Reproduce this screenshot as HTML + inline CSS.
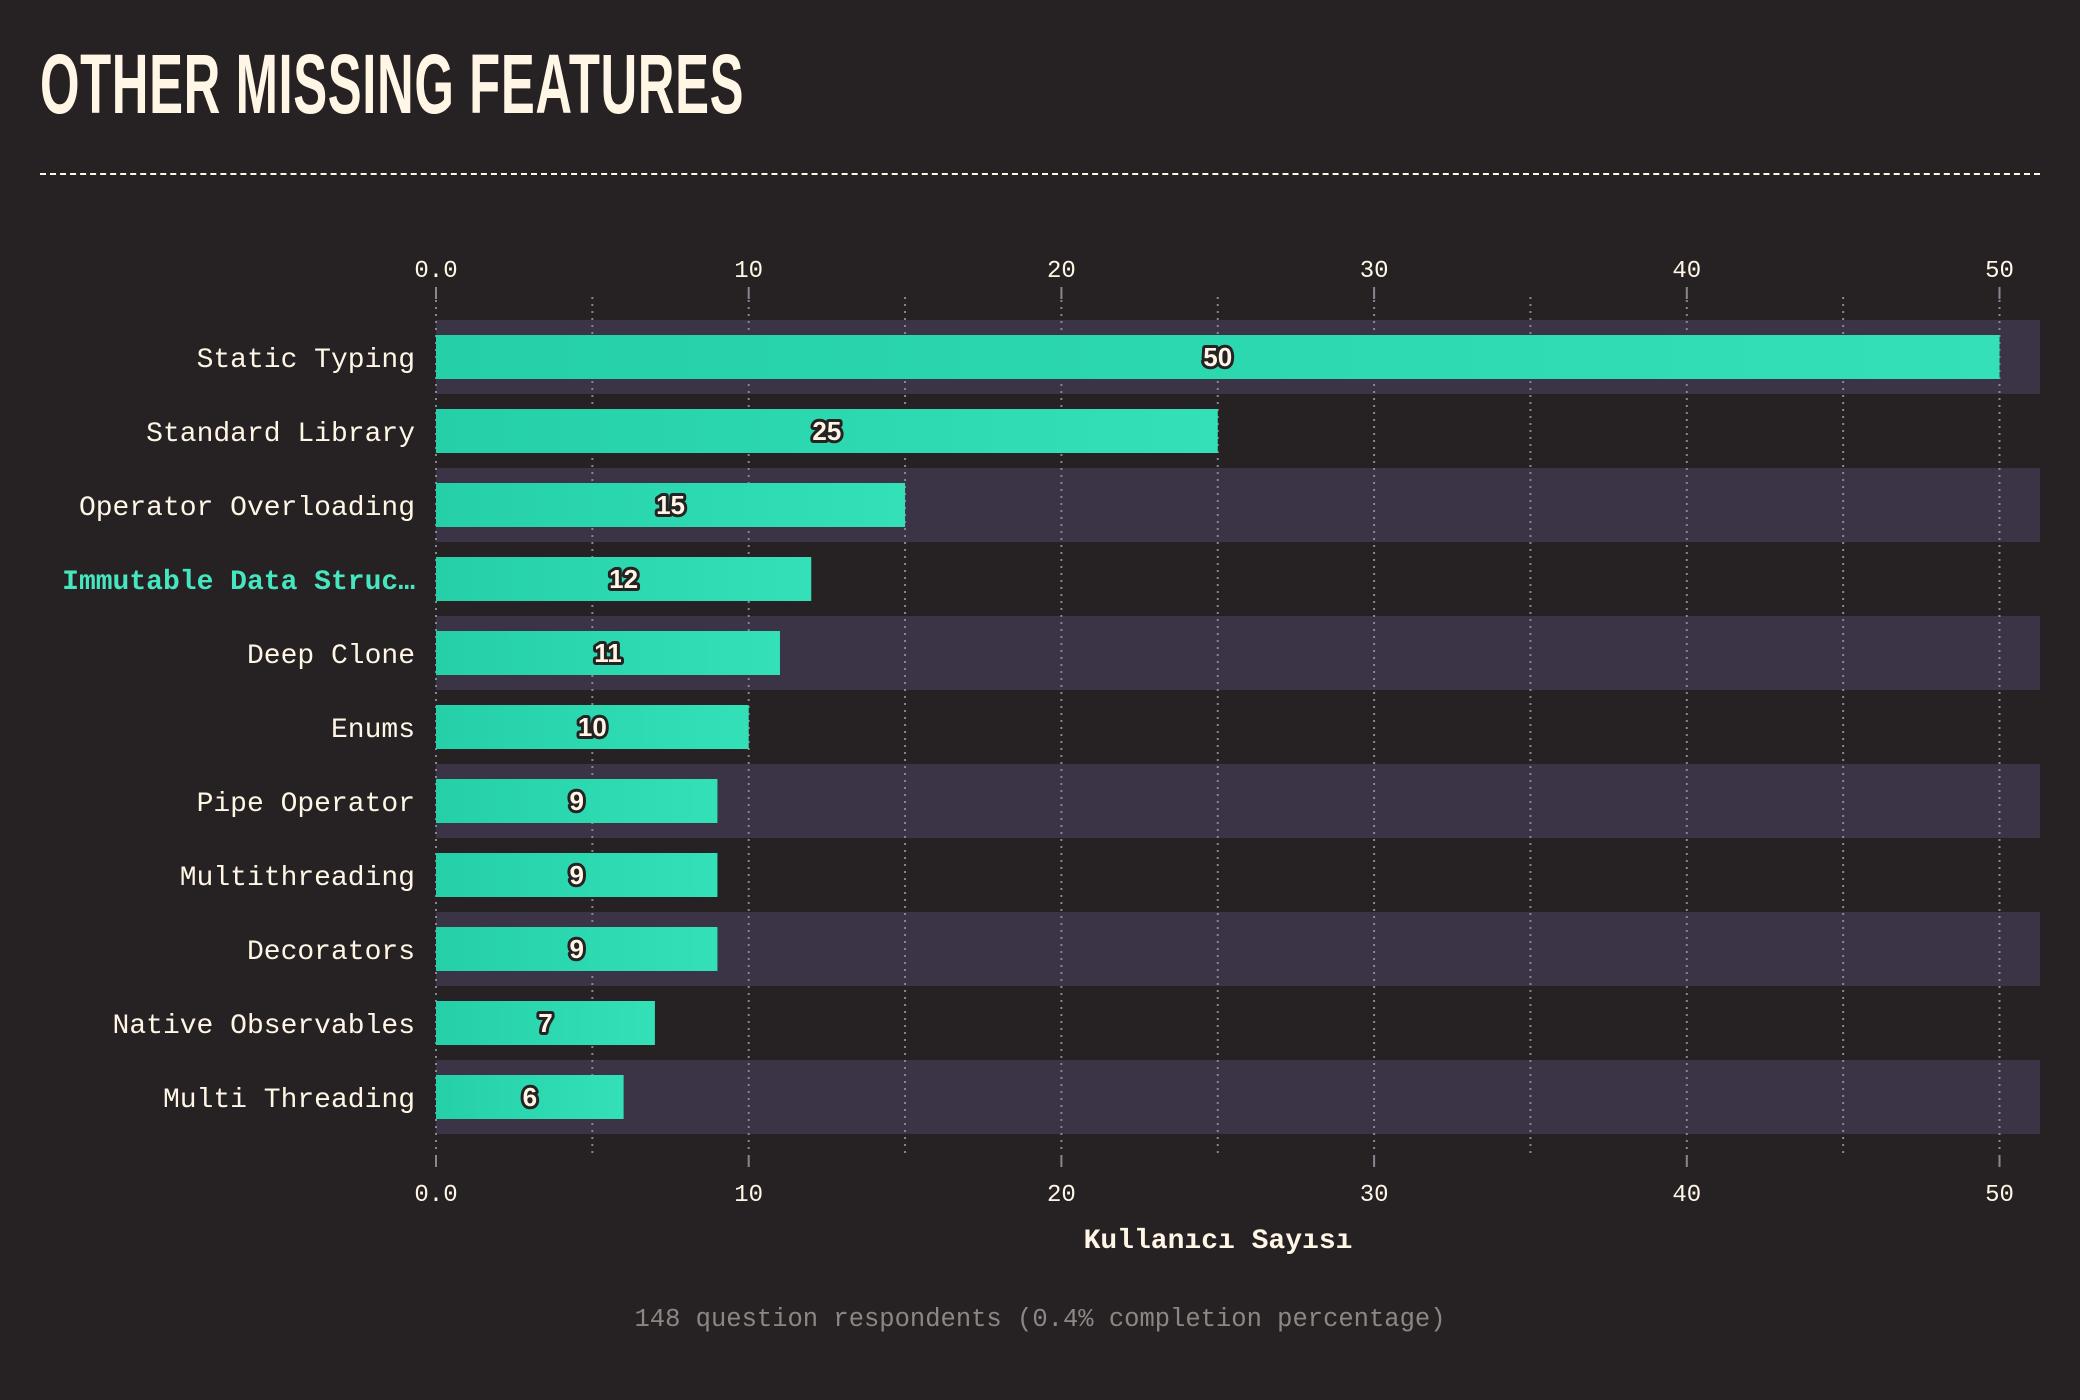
<!DOCTYPE html>
<html><head><meta charset="utf-8"><style>
html,body{margin:0;padding:0;background:#262223;}
body{width:2080px;height:1400px;overflow:hidden;position:relative;font-family:"Liberation Mono",monospace;}
#title{position:absolute;left:40px;top:36px;font-family:"Liberation Sans",sans-serif;font-weight:bold;font-size:84px;color:#fff6e6;transform:scaleX(0.605);transform-origin:0 0;white-space:nowrap;letter-spacing:1px;}
#rule{position:absolute;left:40px;top:173px;width:2000px;border-top:2px dashed #fff6e6;}
</style></head><body>
<div id="title">OTHER MISSING FEATURES</div>
<div id="rule"></div>
<svg id="chart" width="2080" height="1400" style="position:absolute;left:0;top:0"></svg>
<script>
const categories=["Static Typing","Standard Library","Operator Overloading","Immutable Data Struc…","Deep Clone","Enums","Pipe Operator","Multithreading","Decorators","Native Observables","Multi Threading"];
const values=[50,25,15,12,11,10,9,9,9,7,6];
const majorTicks=[0,10,20,30,40,50];
const tickLabels=["0.0","10","20","30","40","50"];
const minorTicks=[5,15,25,35,45];
const highlightIndex=3;

const NS="http://www.w3.org/2000/svg";
const svg=document.getElementById('chart');
const X0=436,PXU=31.27,TOP=320,ROW=74,RIGHT=2040;
const x=v=>X0+v*PXU;
const y=i=>TOP+i*ROW;
function mk(t,a,p){const e=document.createElementNS(NS,t);for(const k in a)e.setAttribute(k,a[k]);(p||svg).appendChild(e);return e;}
const defs=mk('defs',{});
const g=mk('linearGradient',{id:'bg',x1:0,x2:1,y1:0,y2:0},defs);
mk('stop',{offset:0,'stop-color':'#25d0a8'},g);mk('stop',{offset:1,'stop-color':'#33e0b8'},g);
const bottom=y(categories.length);
categories.forEach((c,i)=>{if(i%2===0){const b=mk('rect',{x:X0,y:y(i),width:RIGHT-X0,height:ROW,fill:'#3a3446'});

}});
minorTicks.forEach(v=>{const l=mk('line',{x1:x(v),x2:x(v),y1:297,y2:bottom+22,stroke:'#8a8590','stroke-width':2,'stroke-dasharray':'2 5'});

});
majorTicks.forEach((v,k)=>{
 const l=mk('line',{x1:x(v),x2:x(v),y1:300,y2:bottom+20,stroke:'#8a8590','stroke-width':2,'stroke-dasharray':'2 5'});
 
 
 mk('line',{x1:x(v),x2:x(v),y1:287,y2:299,stroke:'#8a8590','stroke-width':2});
 mk('line',{x1:x(v),x2:x(v),y1:bottom+21,y2:bottom+33,stroke:'#8a8590','stroke-width':2});
 const t1=mk('text',{x:x(v),y:277,'text-anchor':'middle','font-size':24,fill:'#fff6e6','font-family':'Liberation Mono, monospace'});t1.textContent=tickLabels[k];
 
 
 const t2=mk('text',{x:x(v),y:1201,'text-anchor':'middle','font-size':24,fill:'#fff6e6','font-family':'Liberation Mono, monospace'});t2.textContent=tickLabels[k];
 
 
});
categories.forEach((c,i)=>{
 const cy=y(i)+ROW/2;
 const r=mk('rect',{x:X0,y:cy-22,width:x(values[i])-X0,height:44,fill:'url(#bg)'});
 
 
 const hl=i===highlightIndex;
 const lb=mk('text',{x:415,y:cy+10,'text-anchor':'end','font-size':28,fill:hl?'#45e6c0':'#fff6e6','font-weight':hl?'bold':'normal','font-family':'Liberation Mono, monospace'});lb.textContent=c;
 
 
 const vl=mk('text',{x:(X0+x(values[i]))/2,y:cy+9,'text-anchor':'middle','font-size':26,'font-weight':'bold',fill:'#fff6e6',stroke:'#262223','stroke-width':6,'paint-order':'stroke','stroke-linejoin':'round','font-family':'Liberation Sans, sans-serif'});vl.textContent=values[i];
 
 
});
const at=mk('text',{x:1218,y:1248,'text-anchor':'middle','font-size':28,'font-weight':'bold',fill:'#fff6e6','font-family':'Liberation Mono, monospace'});at.textContent='Kullanıcı Sayısı';


const fn=mk('text',{x:1040,y:1326,'text-anchor':'middle','font-size':25.5,fill:'#8d8784','font-family':'Liberation Mono, monospace'});fn.textContent='148 question respondents (0.4% completion percentage)';


</script>
</body></html>
